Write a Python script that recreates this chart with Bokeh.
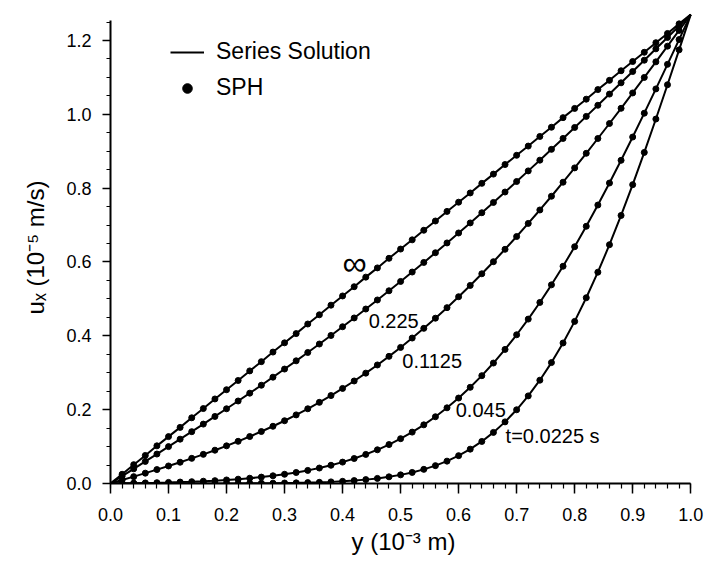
from bokeh.plotting import figure
from bokeh.models import (Range1d, SingleIntervalTicker, PrintfTickFormatter,
                          Legend, LegendItem, ColumnDataSource)
from bokeh.core.properties import value
from bokeh.embed import file_html
from bokeh.resources import INLINE

FONT = "Liberation Sans"

# distance across the channel, y (10^-3 m)
y_pos = [0.00, 0.02, 0.04, 0.06, 0.08, 0.10, 0.12, 0.14, 0.16, 0.18,
         0.20, 0.22, 0.24, 0.26, 0.28, 0.30, 0.32, 0.34, 0.36, 0.38,
         0.40, 0.42, 0.44, 0.46, 0.48, 0.50, 0.52, 0.54, 0.56, 0.58,
         0.60, 0.62, 0.64, 0.66, 0.68, 0.70, 0.72, 0.74, 0.76, 0.78,
         0.80, 0.82, 0.84, 0.86, 0.88, 0.90, 0.92, 0.94, 0.96, 0.98, 1.00]

# velocity u_x (10^-5 m/s) for each time
u_inf = [0, 0.025, 0.051, 0.076, 0.102, 0.127, 0.152, 0.178, 0.203, 0.229,
         0.254, 0.279, 0.305, 0.330, 0.356, 0.381, 0.406, 0.432, 0.457, 0.483,
         0.508, 0.533, 0.559, 0.584, 0.610, 0.635, 0.660, 0.686, 0.711, 0.737,
         0.762, 0.787, 0.813, 0.838, 0.864, 0.889, 0.914, 0.940, 0.965, 0.991,
         1.016, 1.041, 1.067, 1.092, 1.118, 1.143, 1.168, 1.194, 1.219, 1.245, 1.27]
u_t0225 = [0, 0.0199, 0.0398, 0.0598, 0.0798, 0.0999, 0.1201, 0.1404, 0.1609, 0.1816,
           0.2024, 0.2235, 0.2447, 0.2662, 0.2880, 0.3100, 0.3323, 0.3549, 0.3778, 0.4010,
           0.4246, 0.4484, 0.4726, 0.4971, 0.5220, 0.5473, 0.5728, 0.5988, 0.6250, 0.6516,
           0.6786, 0.7058, 0.7334, 0.7613, 0.7895, 0.8180, 0.8468, 0.8758, 0.9051, 0.9347,
           0.9644, 0.9944, 1.0245, 1.0548, 1.0853, 1.1159, 1.1466, 1.1774, 1.2082, 1.2391, 1.27]
u_t01125 = [0, 0.0093, 0.0186, 0.0280, 0.0377, 0.0475, 0.0576, 0.0681, 0.0789, 0.0902,
            0.1020, 0.1143, 0.1272, 0.1408, 0.1550, 0.1700, 0.1858, 0.2024, 0.2198, 0.2382,
            0.2575, 0.2777, 0.2989, 0.3211, 0.3444, 0.3686, 0.3940, 0.4203, 0.4478, 0.4763,
            0.5059, 0.5365, 0.5681, 0.6008, 0.6344, 0.6690, 0.7045, 0.7409, 0.7781, 0.8161,
            0.8549, 0.8944, 0.9345, 0.9751, 1.0163, 1.0579, 1.0999, 1.1421, 1.1846, 1.2273, 1.27]
u_t0045 = [0, 0.0005, 0.0010, 0.0016, 0.0022, 0.0030, 0.0039, 0.0049, 0.0062, 0.0077,
           0.0096, 0.0117, 0.0143, 0.0173, 0.0209, 0.0250, 0.0298, 0.0355, 0.0419, 0.0494,
           0.0579, 0.0677, 0.0788, 0.0913, 0.1055, 0.1214, 0.1392, 0.1589, 0.1808, 0.2050,
           0.2315, 0.2605, 0.2921, 0.3263, 0.3632, 0.4029, 0.4453, 0.4904, 0.5381, 0.5885,
           0.6414, 0.6967, 0.7543, 0.8139, 0.8754, 0.9385, 1.0031, 1.0688, 1.1354, 1.2025, 1.27]
u_t00225 = [0, 0.0000, 0.0000, 0.0000, 0.0000, 0.0000, 0.0000, 0.0000, 0.0001, 0.0001,
            0.0002, 0.0003, 0.0005, 0.0007, 0.0009, 0.0013, 0.0017, 0.0024, 0.0032, 0.0044,
            0.0059, 0.0079, 0.0105, 0.0138, 0.0181, 0.0234, 0.0300, 0.0383, 0.0484, 0.0606,
            0.0754, 0.0930, 0.1139, 0.1384, 0.1669, 0.1997, 0.2373, 0.2798, 0.3275, 0.3806,
            0.4391, 0.5031, 0.5724, 0.6468, 0.7260, 0.8095, 0.8968, 0.9872, 1.0801, 1.1746, 1.27]

series = [u_inf, u_t0225, u_t01125, u_t0045, u_t00225]

curve_labels = ["∞", "0.225", "0.1125", "0.045", "t=0.0225 s"]
label_x = [0.400, 0.445, 0.503, 0.595, 0.681]
label_y = [0.598, 0.4415, 0.333, 0.198, 0.130]
label_size = ["34px", "20px", "20px", "20px", "20px"]

p = figure(width=708, height=562, output_backend="svg", toolbar_location=None,
           x_range=Range1d(0, 1.01), y_range=Range1d(0, 1.2785),
           min_border_left=110, min_border_right=12, min_border_top=11,
           min_border_bottom=79)
p.outline_line_color = None
p.xgrid.visible = False
p.ygrid.visible = False
p.background_fill_color = "white"
p.border_fill_color = "white"

line_r = None
dot_r = None
for u in series:
    src = ColumnDataSource(dict(x=y_pos, y=u))
    dots = ColumnDataSource(dict(x=y_pos[1:-1], y=u[1:-1]))
    line_r = p.line("x", "y", source=src, line_color="black", line_width=2)
    dot_r = p.scatter("x", "y", source=dots, marker="circle", size=6,
                      fill_color="black", line_color="black")

for t, lx, ly, fs in zip(curve_labels, label_x, label_y, label_size):
    p.text(x=[lx], y=[ly], text=[t], text_align="left", text_baseline="middle",
           text_font=value(FONT), text_font_size=fs, text_color="black")

# axes
xa = p.xaxis[0]
xa.ticker = SingleIntervalTicker(interval=0.1, num_minor_ticks=5)
xa.formatter = PrintfTickFormatter(format="%.1f")
xa.bounds = (0, 1.0)
xa.axis_label = "y (10⁻³ m)"
xa.major_tick_out = 10
xa.major_tick_in = 0
xa.minor_tick_out = 5
xa.minor_tick_in = 0
xa.major_label_standoff = 14
xa.axis_label_standoff = 4

ya = p.yaxis[0]
ya.ticker = SingleIntervalTicker(interval=0.2, num_minor_ticks=4)
ya.formatter = PrintfTickFormatter(format="%.1f")
ya.bounds = (0, 1.255)
ya.axis_label = "uₓ (10⁻⁵ m/s)"
ya.major_tick_out = 8
ya.major_tick_in = 0
ya.minor_tick_out = 4
ya.minor_tick_in = 0
ya.major_label_standoff = 11
ya.axis_label_standoff = 14

for ax in (xa, ya):
    ax.axis_line_width = 2
    ax.axis_line_color = "black"
    ax.major_tick_line_width = 1.5
    ax.minor_tick_line_width = 1.2
    ax.major_tick_line_color = "black"
    ax.minor_tick_line_color = "black"
    ax.major_label_text_font = FONT
    ax.major_label_text_font_size = "18px"
    ax.major_label_text_color = "black"
    ax.axis_label_text_font = FONT
    ax.axis_label_text_font_size = "24px"
    ax.axis_label_text_font_style = "normal"
    ax.axis_label_text_color = "black"

legend = Legend(items=[LegendItem(label="Series Solution", renderers=[line_r]),
                       LegendItem(label="SPH", renderers=[dot_r])],
                location=(60, 382), glyph_width=34, glyph_height=24,
                label_height=24, label_standoff=12, spacing=9, padding=0,
                margin=0, border_line_color=None, background_fill_alpha=0,
                label_text_font=FONT, label_text_font_size="23px",
                label_text_color="black")
p.add_layout(legend)

open("out.html", "w").write(file_html(p, INLINE))
